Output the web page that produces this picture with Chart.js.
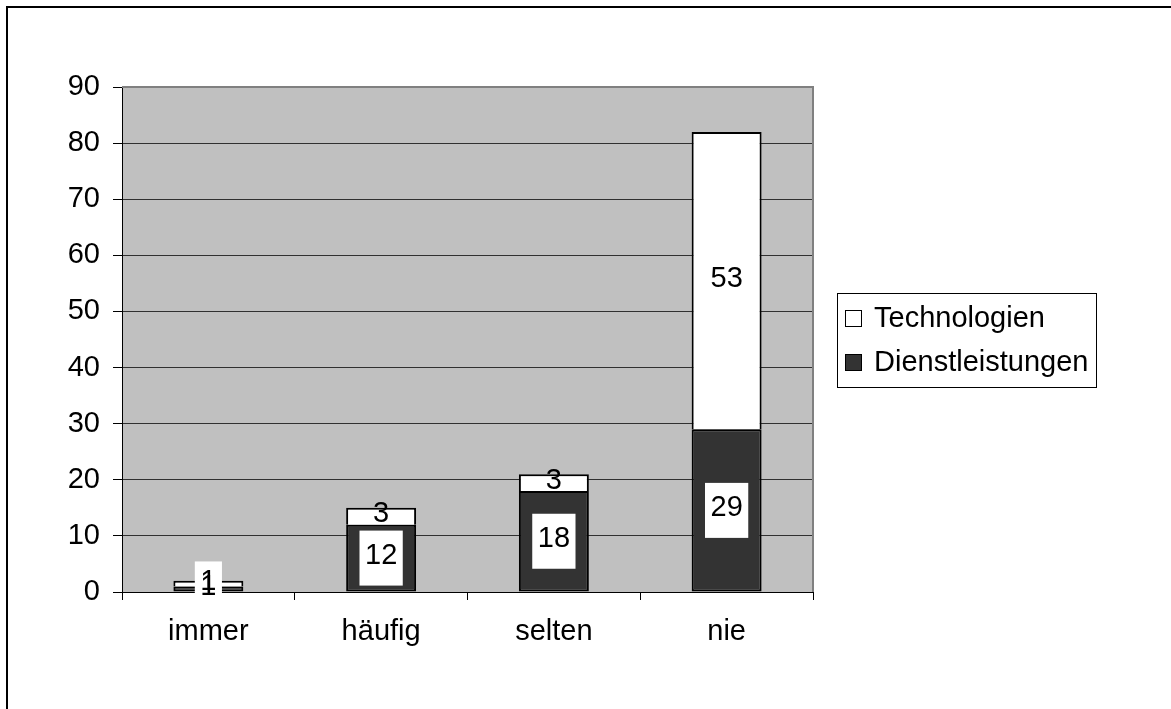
<!DOCTYPE html>
<html lang="de">
<head>
    <meta charset="UTF-8">
    <title>Dienstleistungen und Technologien</title>
    <script src="https://cdn.jsdelivr.net/npm/chart.js"></script>
    <style>
        body {
            margin: 0;
            padding: 0;
            background-color: #fff;
        }
        .chart-container {
            width: 1171px;
            height: 709px;
        }
    </style>
</head>
<body>

    <div class="chart-container">
        <canvas id="frequencyChart" width="1171" height="709"></canvas>
    </div>

    <script>
        // Data
        const categories = ['immer', 'häufig', 'selten', 'nie'];
        const dienstleistungen = [1, 12, 18, 29];
        const technologien = [1, 3, 3, 53];
        const yTicks = [0, 10, 20, 30, 40, 50, 60, 70, 80, 90];

        const FONT = "'Liberation Sans', Arial, sans-serif";
        const FONT_SIZE = 29;
        Chart.defaults.font.family = FONT;
        Chart.defaults.font.size = FONT_SIZE;
        Chart.defaults.color = '#000';

        // Gray plot background plus top/right plot border
        const plotArea = {
            id: 'plotArea',
            beforeDraw(chart) {
                const { ctx, chartArea: a } = chart;
                ctx.save();
                ctx.fillStyle = '#c0c0c0';
                ctx.fillRect(a.left, a.top, a.right - a.left, a.bottom - a.top);
                ctx.restore();
            },
            beforeDatasetsDraw(chart) {
                const { ctx, chartArea: a } = chart;
                ctx.save();
                ctx.strokeStyle = '#808080';
                ctx.lineWidth = 2;
                ctx.beginPath();
                ctx.moveTo(a.left, a.top);
                ctx.lineTo(a.right, a.top);
                ctx.lineTo(a.right, a.bottom);
                ctx.stroke();
                ctx.restore();
            }
        };

        // Value labels, dark series get a white box
        const valueLabels = {
            id: 'valueLabels',
            afterDatasetsDraw(chart) {
                const ctx = chart.ctx;
                ctx.save();
                ctx.font = FONT_SIZE + 'px ' + FONT;
                ctx.textAlign = 'center';
                ctx.textBaseline = 'middle';
                chart.data.datasets.forEach((ds, i) => {
                    const meta = chart.getDatasetMeta(i);
                    meta.data.forEach((bar, j) => {
                        const text = String(ds.data[j]);
                        const cy = (bar.y + bar.base) / 2;
                        if (i === 0) {
                            const w = ctx.measureText(text).width + 11;
                            ctx.fillStyle = '#fff';
                            ctx.fillRect(bar.x - w / 2, cy - 27.5, w, 55);
                        }
                        ctx.fillStyle = '#000';
                        ctx.fillText(text, bar.x, cy - 2);
                    });
                });
                ctx.restore();
            }
        };

        // Boxed legend on the right and outer frame
        const boxLegend = {
            id: 'boxLegend',
            afterDraw(chart) {
                const ctx = chart.ctx;
                ctx.save();
                ctx.fillStyle = '#fff';
                ctx.fillRect(837, 293, 259, 94);
                ctx.strokeStyle = '#000';
                ctx.lineWidth = 1;
                ctx.strokeRect(837.5, 293.5, 259, 94);

                const items = chart.data.datasets.slice().reverse();
                ctx.font = FONT_SIZE + 'px ' + FONT;
                ctx.textBaseline = 'middle';
                ctx.textAlign = 'left';
                items.forEach((ds, k) => {
                    const cy = 318.5 + k * 44;
                    ctx.fillStyle = ds.backgroundColor;
                    ctx.fillRect(845, cy - 8.5, 17, 17);
                    ctx.strokeStyle = '#000';
                    ctx.strokeRect(845.5, cy - 8, 16, 16);
                    ctx.fillStyle = '#000';
                    ctx.fillText(ds.label, 874, cy);
                });

                ctx.lineWidth = 2;
                ctx.strokeRect(7, 7, 1300, 900);
                ctx.restore();
            }
        };

        const ctx = document.getElementById('frequencyChart').getContext('2d');
        const frequencyChart = new Chart(ctx, {
            type: 'bar',
            data: {
                labels: categories,
                datasets: [{
                    label: 'Dienstleistungen',
                    data: dienstleistungen,
                    backgroundColor: '#333333',
                    borderColor: '#000',
                    borderWidth: 2,
                    borderSkipped: false
                }, {
                    label: 'Technologien',
                    data: technologien,
                    backgroundColor: '#ffffff',
                    borderColor: '#000',
                    borderWidth: 2,
                    borderSkipped: 'bottom'
                }]
            },
            options: {
                responsive: false,
                animation: false,
                events: [],
                layout: {
                    padding: { left: 0, top: 87, right: 358, bottom: 0 }
                },
                datasets: {
                    bar: {
                        categoryPercentage: 1,
                        barPercentage: 0.405
                    }
                },
                plugins: {
                    legend: { display: false },
                    tooltip: { enabled: false }
                },
                scales: {
                    x: {
                        stacked: true,
                        afterFit: s => { s.height = 117; },
                        grid: {
                            offset: true,
                            drawOnChartArea: false,
                            drawTicks: true,
                            tickLength: 8,
                            tickColor: '#000'
                        },
                        border: { color: '#000', width: 1 },
                        ticks: { padding: 15, font: { size: FONT_SIZE } }
                    },
                    y: {
                        stacked: true,
                        min: yTicks[0],
                        max: yTicks[yTicks.length - 1],
                        afterFit: s => { s.width = 122; },
                        afterBuildTicks: s => { s.ticks = yTicks.map(v => ({ value: v })); },
                        grid: {
                            color: c => (c.tick && c.tick.value === 90) ? '#808080' : '#303030',
                            lineWidth: 1,
                            tickLength: 9,
                            tickColor: '#000'
                        },
                        border: { color: '#000', width: 1 },
                        ticks: { padding: 13, font: { size: FONT_SIZE } }
                    }
                }
            },
            plugins: [plotArea, valueLabels, boxLegend]
        });
    </script>

</body>
</html>
